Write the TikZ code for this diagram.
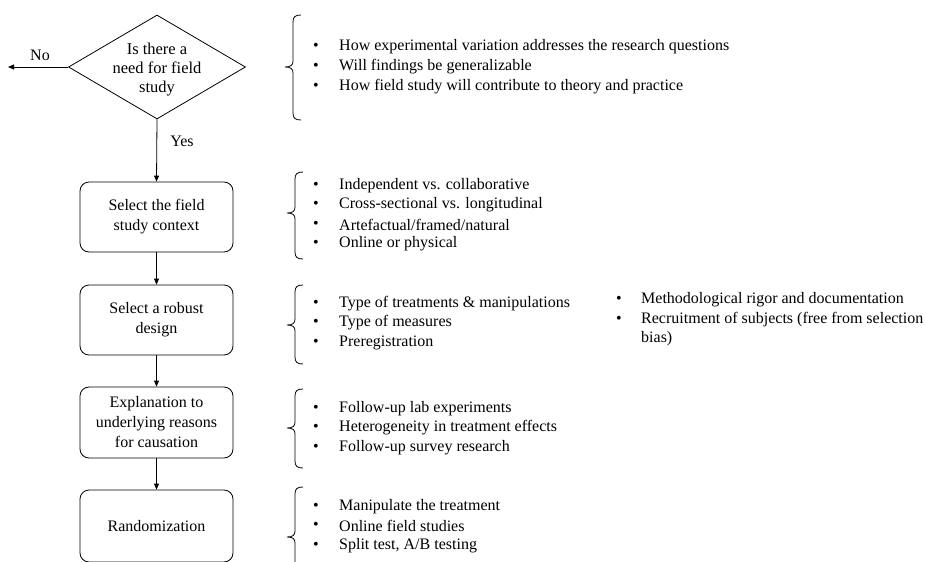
\documentclass[tikz,border=0pt]{standalone}
\usepackage{fontspec}
\setmainfont{Liberation Serif}
\usetikzlibrary{arrows.meta,shapes.geometric}
\newcommand\mybrace[4]{% x of vertical, top, mid, bottom
  \draw[line width=0.8pt] (#1+8,#2) .. controls (#1+2,#2) and (#1,#2+2) .. (#1,#2+7) -- (#1,#3-6)
    .. controls (#1,#3-2) and (#1-2,#3) .. (#1-8,#3)
    .. controls (#1-2,#3) and (#1,#3+2) .. (#1,#3+6) -- (#1,#4-7)
    .. controls (#1,#4-2) and (#1+2,#4) .. (#1+8,#4);}
\begin{document}
\begin{tikzpicture}[x=1pt,y=-1pt,
  every node/.style={font=\fontsize{16}{20}\selectfont, inner sep=0pt},
  stepbox/.style={draw, line width=0.8pt, rounded corners=9pt, minimum width=153pt, align=center},
  bul/.style={anchor=center},
  itm/.style={anchor=west},
  arr/.style={line width=0.8pt, -{Triangle[length=6pt,width=5pt]}}]
\useasboundingbox (0,0) rectangle (926,562);
% decision
\node[draw, line width=0.8pt, diamond, aspect=1.7, minimum width=177pt, minimum height=104pt, inner sep=0pt] (d) at (157,67) {};
\node[align=center, font=\fontsize{16.5}{19}\selectfont] (dt) at (157,70) {Is there a\\need for field\\study};
\coordinate (noend) at (8,67);
\draw[arr] (d.west) -- (noend);
\node (no) at (40,55) {No};
% boxes
\node[stepbox, minimum height=70pt] (b1) at (156.5,217) {Select the field\\study context};
\node[stepbox, minimum height=70pt] (b2) at (156.5,320) {Select a robust\\design};
\node[stepbox, minimum height=71pt] (b3) at (156.5,422.5) {Explanation to\\underlying reasons\\for causation};
\node[stepbox, minimum height=72pt] (b4) at (156.5,526) {Randomization};
\draw[arr] (d.south) -- (b1.north);
\node (yes) at (182,141) {Yes};
\draw[arr] (b1.south) -- (b2.north);
\draw[arr] (b2.south) -- (b3.north);
\draw[arr] (b3.south) -- (b4.north);
% braces
\mybrace{293}{15}{67}{120}
\mybrace{295}{172}{213}{259}
\mybrace{295}{285}{325}{364}
\mybrace{295}{389}{428}{468}
\mybrace{295}{487}{537}{600}
% bullets group 1
\node[bul] (g1a) at (316,47) {•}; \node[itm] (t1a) at (339,47) {How experimental  variation  addresses the research questions};
\node[bul] (g1b) at (316,67) {•}; \node[itm] (t1b) at (339,67) {Will  findings  be generalizable};
\node[bul] (g1c) at (316,87) {•}; \node[itm] (t1c) at (339,87) {How field  study will  contribute to theory and practice};
% group 2
\node[bul] (g2a) at (316,186) {•}; \node[itm] (t2a) at (339,186) {Independent vs. collaborative};
\node[bul] (g2b) at (316,205) {•}; \node[itm] (t2b) at (339,205) {Cross-sectional vs. longitudinal};
\node[bul] (g2c) at (316,225) {•}; \node[itm] (t2c) at (339,225) {Artefactual/framed/natural};
\node[bul] (g2d) at (316,244) {•}; \node[itm] (t2d) at (339,244) {Online  or physical};
% group 3
\node[bul] (g3a) at (316,304) {•}; \node[itm] (t3a) at (339,304) {Type of treatments \& manipulations};
\node[bul] (g3b) at (316,323) {•}; \node[itm] (t3b) at (339,323) {Type of measures};
\node[bul] (g3c) at (316,343) {•}; \node[itm] (t3c) at (339,343) {Preregistration};
\node[bul] (g3d) at (619,300) {•}; \node[itm] (t3d) at (641,300) {Methodological rigor and documentation};
\node[bul] (g3e) at (619,320) {•}; \node[itm] (t3e) at (641,320) {Recruitment  of subjects (free  from  selection};
\node[itm] (t3f) at (641,339) {bias)};
% group 4
\node[bul] (g4a) at (316,409) {•}; \node[itm] (t4a) at (339,409) {Follow-up lab experiments};
\node[bul] (g4b) at (316,428) {•}; \node[itm] (t4b) at (339,428) {Heterogeneity in treatment effects};
\node[bul] (g4c) at (316,448) {•}; \node[itm] (t4c) at (339,448) {Follow-up survey research};
% group 5
\node[bul] (g5a) at (316,507) {•}; \node[itm] (t5a) at (339,507) {Manipulate  the treatment};
\node[bul] (g5b) at (316,526) {•}; \node[itm] (t5b) at (339,526) {Online  field  studies};
\node[bul] (g5c) at (316,546) {•}; \node[itm] (t5c) at (339,546) {Split test, A/B testing};
\end{tikzpicture}
\end{document}
